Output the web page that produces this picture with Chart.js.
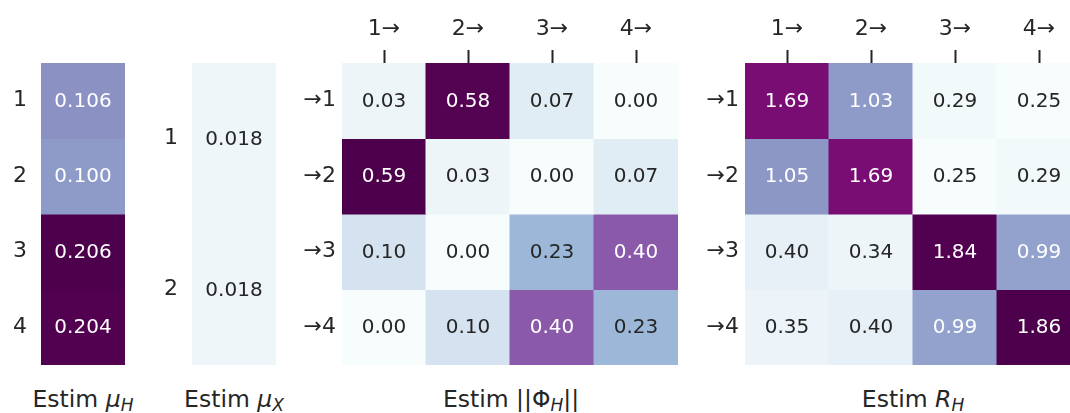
<!DOCTYPE html>
<html>
<head>
<meta charset="utf-8">
<script src="https://cdn.jsdelivr.net/npm/chart.js@4"></script>
<style>
  html, body { margin: 0; padding: 0; background: #fff; }
  body { width: 1070px; height: 413px; position: relative; overflow: hidden; font-family: "DejaVu Sans", sans-serif; color: #262626; }
  canvas { position: absolute; top: 0; }
  .title { position: absolute; top: 388px; font-size: 23.5px; line-height: 23px; white-space: nowrap; transform: translateX(-50%); }
  .title i { font-style: italic; }
  .title .sb { font-style: italic; font-size: 17px; position: relative; top: 4px; }
</style>
</head>
<body>
<canvas id="muH" width="125" height="365" style="left:0px"></canvas>
<canvas id="muX" width="136" height="365" style="left:140px"></canvas>
<canvas id="phiH" width="388" height="365" style="left:290px"></canvas>
<canvas id="rH" width="388" height="365" style="left:693px"></canvas>

<div class="title" style="left:83px">Estim <i>μ</i><span class="sb">H</span></div>
<div class="title" style="left:234px">Estim <i>μ</i><span class="sb">X</span></div>
<div class="title" style="left:511px">Estim ||Φ<span class="sb">H</span>||</div>
<div class="title" style="left:913px">Estim <i>R</i><span class="sb">H</span></div>

<script>
'use strict'

// data
const muHRows = ['1', '2', '3', '4'];
const muHValues = [0.106, 0.100, 0.206, 0.204];

const muXRows = ['1', '2'];
const muXValues = [0.018, 0.018];

const fromLabels = ['1→', '2→', '3→', '4→'];
const toLabels = ['→1', '→2', '→3', '→4'];

const phiHValues = [
    [0.03, 0.58, 0.07, 0.00],
    [0.59, 0.03, 0.00, 0.07],
    [0.10, 0.00, 0.23, 0.40],
    [0.00, 0.10, 0.40, 0.23]
];

const rHValues = [
    [1.69, 1.03, 0.29, 0.25],
    [1.05, 1.69, 0.25, 0.29],
    [0.40, 0.34, 1.84, 0.99],
    [0.35, 0.40, 0.99, 1.86]
];

// BuPu colormap stops
const BUPU = ['#f7fcfd', '#e0ecf4', '#bfd3e6', '#9ebcda', '#8c96c6', '#8c6bb1', '#88419d', '#810f7c', '#4d004b']
    .map(h => [1, 3, 5].map(i => parseInt(h.substr(i, 2), 16)));

function bupu(v, vmin, vmax) {
    let t = (v - vmin) / (vmax - vmin);
    t = Math.max(0, Math.min(1, t)) * (BUPU.length - 1);
    const i = Math.min(Math.floor(t), BUPU.length - 2);
    const f = t - i;
    return BUPU[i].map((c, k) => Math.round(c + (BUPU[i + 1][k] - c) * f));
}

function luminance(rgb) {
    const c = rgb.map(x => {
        x = x / 255;
        return x <= 0.03928 ? x / 12.92 : Math.pow((x + 0.055) / 1.055, 2.4);
    });
    return 0.2126 * c[0] + 0.7152 * c[1] + 0.0722 * c[2];
}

const annotate = {
    id: 'annotate',
    afterDatasetsDraw(chart) {
        const ctx = chart.ctx;
        ctx.save();
        ctx.font = '20px "DejaVu Sans"';
        ctx.textAlign = 'center';
        ctx.textBaseline = 'middle';
        chart.data.datasets.forEach((ds, d) => {
            chart.getDatasetMeta(d).data.forEach((el, i) => {
                const p = el.getProps(['x', 'y', 'base'], true);
                ctx.fillStyle = ds.textColors[i];
                ctx.fillText(ds.values[i].toFixed(ds.decimals), p.x, (p.y + p.base) / 2 + 1);
            });
        });
        ctx.restore();
    }
};

function heatmap(id, matrix, rows, cols, o) {
    const datasets = matrix.map((row, r) => {
        const rgb = row.map(v => bupu(v, o.vmin, o.vmax));
        return {
            data: row.map(() => [r, r + 1]),
            values: row,
            decimals: o.decimals,
            backgroundColor: rgb.map(c => 'rgb(' + c.join(',') + ')'),
            textColors: rgb.map(c => luminance(c) > 0.408 ? '#262626' : '#ffffff'),
            grouped: false,
            barPercentage: 1,
            categoryPercentage: 1,
            borderWidth: 0,
            inflateAmount: 0.5
        };
    });

    new Chart(document.getElementById(id), {
        type: 'bar',
        data: { labels: cols, datasets: datasets },
        plugins: [annotate],
        options: {
            responsive: false,
            animation: false,
            events: [],
            layout: { padding: { top: o.showCols ? 0 : 63, left: 0, right: 0, bottom: 0 } },
            plugins: { legend: { display: false }, tooltip: { enabled: false } },
            scales: {
                x: {
                    display: o.showCols,
                    position: 'top',
                    afterFit: s => {
                        s.height = o.showCols ? 63 : 0;
                        s.paddingLeft = 0;
                        s.paddingRight = 0;
                    },
                    border: { display: false },
                    grid: {
                        offset: false,
                        drawOnChartArea: false,
                        drawTicks: true,
                        tickLength: 13,
                        tickWidth: 2,
                        tickColor: '#262626'
                    },
                    ticks: {
                        padding: 8,
                        maxRotation: 0,
                        color: '#262626',
                        font: { family: 'DejaVu Sans', size: 22 }
                    }
                },
                y: {
                    min: 0,
                    max: rows.length,
                    reverse: true,
                    afterFit: s => {
                        s.width = o.yWidth;
                        s.paddingTop = 0;
                        s.paddingBottom = 0;
                    },
                    afterBuildTicks: s => { s.ticks = rows.map((_, i) => ({ value: i + 0.5 })); },
                    border: { display: false },
                    grid: { display: false, drawTicks: false },
                    ticks: {
                        padding: o.yPad,
                        color: '#262626',
                        font: { family: 'DejaVu Sans', size: 22 },
                        callback: (v, i) => rows[i]
                    }
                }
            }
        }
    });
}

heatmap('muH', muHValues.map(v => [v]), muHRows, [''], { vmin: 0, vmax: 0.206, decimals: 3, showCols: false, yWidth: 41, yPad: 14 });
heatmap('muX', muXValues.map(v => [v]), muXRows, [''], { vmin: 0, vmax: 0.4, decimals: 3, showCols: false, yWidth: 52, yPad: 14 });
heatmap('phiH', phiHValues, toLabels, fromLabels, { vmin: 0, vmax: 0.59, decimals: 2, showCols: true, yWidth: 52, yPad: 6 });
heatmap('rH', rHValues, toLabels, fromLabels, { vmin: 0.25, vmax: 1.86, decimals: 2, showCols: true, yWidth: 52, yPad: 6 });
</script>
</body>
</html>
